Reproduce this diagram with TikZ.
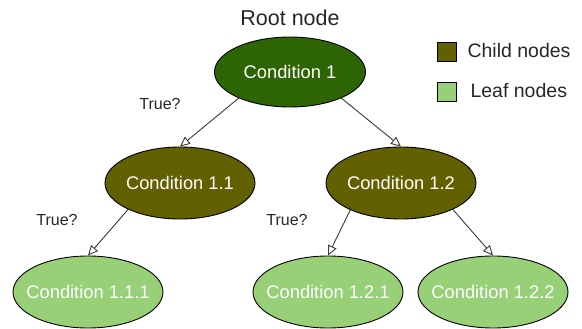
\documentclass[tikz,border=0pt]{standalone}
\usepackage{fontspec}
\setmainfont{Liberation Sans}
\usetikzlibrary{arrows.meta,shapes.geometric}
\definecolor{rootgreen}{HTML}{2D6504}
\definecolor{childolive}{HTML}{626000}
\definecolor{leafgreen}{HTML}{97D077}
\definecolor{edgegray}{HTML}{383838}
% zero-width box so the ellipse size comes only from minimum width/height
\newcommand{\condtext}[1]{\makebox[0pt]{#1}}
\tikzset{
  cond/.style={ellipse, draw=black, line width=0.9pt, minimum width=150pt,
    minimum height=72pt, inner sep=0pt, text=white,
    font=\fontsize{18.3}{20}\selectfont},
  rootcond/.style={cond, fill=rootgreen, minimum width=151pt, minimum height=70pt},
  childcond/.style={cond, fill=childolive},
  leafcond/.style={cond, fill=leafgreen},
  branch/.style={draw=edgegray, line width=0.9pt,
    -{Triangle[open, length=10pt, width=9pt]}},
  asklabel/.style={font=\fontsize{16}{18}\selectfont, text=black!85},
  legendbox/.style={draw=black, line width=0.9pt, minimum size=19pt, inner sep=0pt},
  legendtext/.style={anchor=west, font=\fontsize{19.5}{21}\selectfont, text=black!85}
}
\begin{document}
\begin{tikzpicture}[x=1pt, y=-1pt]
  \useasboundingbox (0,0) rectangle (582,329);

  % tree nodes
  \node[rootcond]  (c1)   at (290,72)  {\condtext{Condition 1}};
  \node[childcond] (c11)  at (180,183) {\condtext{Condition 1.1}};
  \node[childcond] (c12)  at (401,183) {\condtext{Condition 1.2}};
  \node[leafcond]  (c111) at (88,292)  {\condtext{Condition 1.1.1}};
  \node[leafcond]  (c121) at (328,292) {\condtext{Condition 1.2.1}};
  \node[leafcond]  (c122) at (493,292) {\condtext{Condition 1.2.2}};

  % title above the root
  \node[font=\fontsize{21.5}{24}\selectfont, text=black!85] (title) at (290,18) {Root node};

  % branches
  \draw[branch] (c1.207)  -- (c11.north);
  \draw[branch] (c1.333)  -- (c12.north);
  \draw[branch] (c11.207) -- (c111.north);
  \draw[branch] (c12.208) -- (c121.north);
  \draw[branch] (c12.333) -- (c122.north);

  % branch questions
  \node[asklabel] (q1) at (160,104) {True?};
  \node[asklabel] (q2) at (57,220)  {True?};
  \node[asklabel] (q3) at (287,220) {True?};

  % legend
  \node[legendbox, fill=childolive] (lgchild) at (446.5,51.5) {};
  \node[legendbox, fill=leafgreen]  (lgleaf)  at (446.5,91.5) {};
  \node[legendtext] (lgchildtext) at (464,51) {Child nodes};
  \node[legendtext] (lgleaftext)  at (467,91) {Leaf nodes};
\end{tikzpicture}
\end{document}
